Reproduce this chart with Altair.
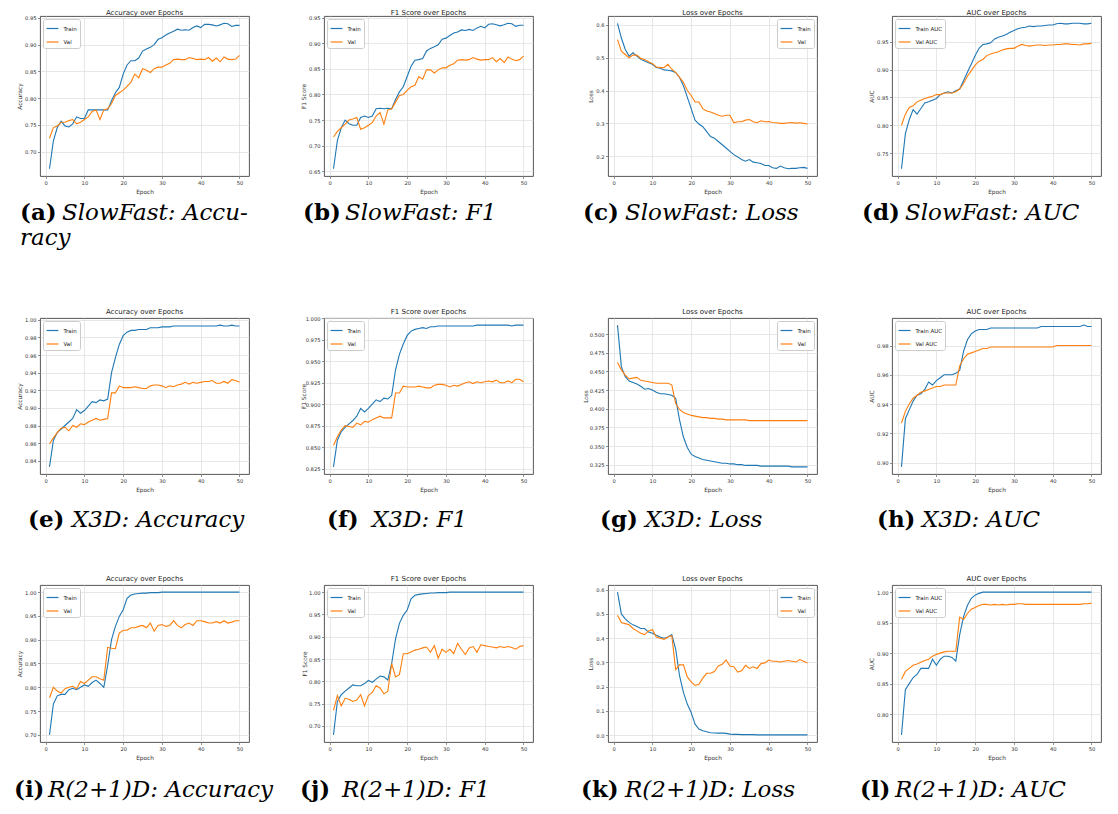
import altair as alt
import pandas as pd

EPOCHS = list(range(1, 51))

# ---------------- SlowFast ----------------
SF_ACC_TRAIN = [0.668, 0.720, 0.745, 0.757, 0.748, 0.746, 0.752, 0.765, 0.762, 0.762,
                0.778, 0.778, 0.778, 0.778, 0.778, 0.778, 0.795, 0.810, 0.820, 0.845,
                0.862, 0.870, 0.870, 0.875, 0.888, 0.892, 0.895, 0.900, 0.910, 0.913,
                0.918, 0.922, 0.925, 0.929, 0.927, 0.928, 0.927, 0.932, 0.935, 0.932,
                0.938, 0.938, 0.937, 0.935, 0.937, 0.940, 0.939, 0.934, 0.936, 0.936]
SF_ACC_VAL = [0.725, 0.745, 0.748, 0.755, 0.755, 0.758, 0.760, 0.752, 0.755, 0.760,
              0.765, 0.775, 0.778, 0.760, 0.778, 0.780, 0.790, 0.805, 0.810, 0.815,
              0.822, 0.830, 0.845, 0.838, 0.855, 0.852, 0.848, 0.855, 0.858, 0.858,
              0.862, 0.865, 0.872, 0.873, 0.872, 0.872, 0.876, 0.874, 0.872, 0.873,
              0.872, 0.876, 0.869, 0.875, 0.868, 0.877, 0.873, 0.872, 0.873, 0.880]
SF_F1_TRAIN = [0.655, 0.710, 0.735, 0.750, 0.743, 0.740, 0.740, 0.755, 0.758, 0.755,
               0.758, 0.772, 0.773, 0.772, 0.773, 0.772, 0.790, 0.805, 0.815, 0.835,
               0.855, 0.867, 0.868, 0.870, 0.885, 0.890, 0.893, 0.897, 0.908, 0.910,
               0.915, 0.920, 0.922, 0.926, 0.925, 0.927, 0.925, 0.930, 0.933, 0.930,
               0.937, 0.938, 0.936, 0.934, 0.936, 0.939, 0.938, 0.933, 0.935, 0.935]
SF_F1_VAL = [0.717, 0.728, 0.735, 0.742, 0.750, 0.752, 0.755, 0.732, 0.735, 0.740,
             0.745, 0.758, 0.765, 0.742, 0.770, 0.772, 0.785, 0.798, 0.800, 0.808,
             0.815, 0.818, 0.835, 0.830, 0.848, 0.848, 0.842, 0.848, 0.852, 0.852,
             0.857, 0.860, 0.867, 0.868, 0.867, 0.868, 0.872, 0.869, 0.867, 0.868,
             0.868, 0.872, 0.864, 0.870, 0.862, 0.873, 0.869, 0.866, 0.868, 0.875]
SF_LOSS_TRAIN = [0.605, 0.560, 0.525, 0.505, 0.515, 0.505, 0.495, 0.490, 0.485, 0.480,
                 0.470, 0.468, 0.463, 0.462, 0.460, 0.455, 0.440, 0.415, 0.380, 0.345,
                 0.310, 0.298, 0.290, 0.275, 0.260, 0.255, 0.245, 0.235, 0.225, 0.215,
                 0.205, 0.198, 0.190, 0.185, 0.190, 0.182, 0.180, 0.178, 0.172, 0.172,
                 0.165, 0.163, 0.170, 0.165, 0.162, 0.163, 0.163, 0.165, 0.166, 0.163]
SF_LOSS_VAL = [0.555, 0.520, 0.510, 0.500, 0.508, 0.508, 0.498, 0.495, 0.488, 0.482,
               0.472, 0.470, 0.470, 0.480, 0.465, 0.455, 0.440, 0.425, 0.400, 0.385,
               0.365, 0.365, 0.345, 0.338, 0.335, 0.330, 0.325, 0.322, 0.325, 0.325,
               0.302, 0.305, 0.305, 0.310, 0.312, 0.305, 0.302, 0.308, 0.305, 0.306,
               0.303, 0.302, 0.300, 0.300, 0.302, 0.303, 0.301, 0.302, 0.300, 0.298]
SF_AUC_TRAIN = [0.722, 0.785, 0.810, 0.828, 0.820, 0.830, 0.840, 0.842, 0.845, 0.848,
                0.855, 0.858, 0.860, 0.858, 0.862, 0.865, 0.880, 0.895, 0.910, 0.925,
                0.938, 0.945, 0.946, 0.948, 0.955, 0.958, 0.960, 0.963, 0.967, 0.970,
                0.973, 0.975, 0.976, 0.978, 0.977, 0.978, 0.978, 0.979, 0.980, 0.980,
                0.982, 0.983, 0.982, 0.982, 0.983, 0.983, 0.983, 0.982, 0.982, 0.983]
SF_AUC_VAL = [0.800, 0.820, 0.832, 0.835, 0.842, 0.845, 0.848, 0.850, 0.852, 0.855,
              0.855, 0.858, 0.858, 0.858, 0.860, 0.865, 0.875, 0.888, 0.898, 0.908,
              0.915, 0.918, 0.925, 0.928, 0.930, 0.932, 0.935, 0.937, 0.938, 0.938,
              0.942, 0.945, 0.943, 0.942, 0.943, 0.944, 0.944, 0.943, 0.944, 0.944,
              0.945, 0.945, 0.946, 0.946, 0.945, 0.945, 0.944, 0.946, 0.946, 0.947]

# ---------------- X3D ----------------
X3D_ACC_TRAIN = [0.833, 0.863, 0.872, 0.876, 0.880, 0.884, 0.888, 0.898, 0.894, 0.897,
                 0.902, 0.907, 0.906, 0.909, 0.908, 0.910, 0.940, 0.957, 0.972, 0.982,
                 0.986, 0.988, 0.988, 0.989, 0.989, 0.989, 0.991, 0.991, 0.991, 0.992,
                 0.992, 0.992, 0.993, 0.993, 0.993, 0.993, 0.993, 0.993, 0.993, 0.993,
                 0.993, 0.993, 0.993, 0.993, 0.994, 0.993, 0.993, 0.994, 0.993, 0.993]
X3D_ACC_VAL = [0.859, 0.866, 0.872, 0.877, 0.878, 0.874, 0.880, 0.878, 0.882, 0.881,
               0.884, 0.886, 0.888, 0.886, 0.887, 0.888, 0.917, 0.917, 0.925, 0.923,
               0.923, 0.923, 0.924, 0.923, 0.922, 0.922, 0.925, 0.926, 0.926, 0.925,
               0.923, 0.925, 0.924, 0.926, 0.927, 0.929, 0.927, 0.929, 0.928, 0.929,
               0.930, 0.930, 0.931, 0.928, 0.928, 0.930, 0.928, 0.932, 0.931, 0.929]
X3D_F1_TRAIN = [0.827, 0.858, 0.868, 0.873, 0.877, 0.881, 0.886, 0.895, 0.891, 0.895,
                0.900, 0.905, 0.903, 0.907, 0.906, 0.910, 0.940, 0.958, 0.970, 0.980,
                0.985, 0.987, 0.988, 0.989, 0.988, 0.990, 0.990, 0.991, 0.991, 0.991,
                0.991, 0.991, 0.991, 0.991, 0.991, 0.991, 0.991, 0.992, 0.992, 0.992,
                0.992, 0.992, 0.992, 0.992, 0.992, 0.992, 0.991, 0.992, 0.992, 0.992]
X3D_F1_VAL = [0.852, 0.862, 0.870, 0.875, 0.874, 0.873, 0.878, 0.876, 0.880, 0.879,
              0.882, 0.884, 0.886, 0.884, 0.884, 0.884, 0.913, 0.913, 0.921, 0.920,
              0.920, 0.920, 0.921, 0.920, 0.919, 0.919, 0.922, 0.923, 0.923, 0.922,
              0.920, 0.922, 0.921, 0.923, 0.925, 0.926, 0.924, 0.926, 0.925, 0.926,
              0.927, 0.926, 0.928, 0.925, 0.925, 0.927, 0.925, 0.929, 0.929, 0.926]
X3D_LOSS_TRAIN = [0.512, 0.456, 0.443, 0.437, 0.435, 0.433, 0.430, 0.426, 0.427, 0.425,
                  0.422, 0.420, 0.420, 0.419, 0.418, 0.414, 0.385, 0.362, 0.348, 0.339,
                  0.336, 0.334, 0.332, 0.331, 0.330, 0.329, 0.328, 0.327, 0.327, 0.326,
                  0.326, 0.325, 0.325, 0.324, 0.324, 0.324, 0.324, 0.323, 0.323, 0.323,
                  0.323, 0.323, 0.323, 0.323, 0.323, 0.322, 0.322, 0.322, 0.322, 0.322]
X3D_LOSS_VAL = [0.462, 0.452, 0.445, 0.440, 0.441, 0.442, 0.438, 0.437, 0.436, 0.435,
                0.434, 0.434, 0.434, 0.434, 0.432, 0.407, 0.399, 0.395, 0.393, 0.391,
                0.390, 0.389, 0.388, 0.388, 0.387, 0.387, 0.386, 0.386, 0.385, 0.385,
                0.385, 0.385, 0.385, 0.385, 0.384, 0.384, 0.384, 0.384, 0.384, 0.384,
                0.384, 0.384, 0.384, 0.384, 0.384, 0.384, 0.384, 0.384, 0.384, 0.384]
X3D_AUC_TRAIN = [0.897, 0.930, 0.936, 0.942, 0.946, 0.947, 0.950, 0.955, 0.953, 0.956,
                 0.958, 0.960, 0.960, 0.960, 0.961, 0.963, 0.976, 0.984, 0.988, 0.990,
                 0.991, 0.991, 0.991, 0.992, 0.992, 0.992, 0.992, 0.992, 0.992, 0.992,
                 0.992, 0.992, 0.992, 0.992, 0.992, 0.992, 0.993, 0.993, 0.993, 0.993,
                 0.993, 0.993, 0.993, 0.993, 0.993, 0.993, 0.993, 0.994, 0.993, 0.993]
X3D_AUC_VAL = [0.927, 0.935, 0.940, 0.944, 0.946, 0.948, 0.949, 0.950, 0.951, 0.952,
               0.952, 0.953, 0.953, 0.953, 0.953, 0.966, 0.971, 0.974, 0.975, 0.976,
               0.977, 0.978, 0.978, 0.979, 0.979, 0.979, 0.979, 0.979, 0.979, 0.979,
               0.979, 0.979, 0.979, 0.979, 0.979, 0.979, 0.979, 0.979, 0.979, 0.979,
               0.980, 0.980, 0.980, 0.980, 0.980, 0.980, 0.980, 0.980, 0.980, 0.980]

# ---------------- R(2+1)D ----------------
R21_ACC_TRAIN = [0.700, 0.765, 0.782, 0.785, 0.785, 0.795, 0.798, 0.795, 0.800, 0.805,
                 0.802, 0.810, 0.815, 0.808, 0.800, 0.846, 0.900, 0.928, 0.949, 0.963,
                 0.987, 0.994, 0.996, 0.997, 0.998, 0.998, 0.999, 0.999, 0.999, 1.000,
                 1.000, 1.000, 1.000, 1.000, 1.000, 1.000, 1.000, 1.000, 1.000, 1.000,
                 1.000, 1.000, 1.000, 1.000, 1.000, 1.000, 1.000, 1.000, 1.000, 1.000]
R21_ACC_VAL = [0.778, 0.800, 0.792, 0.788, 0.797, 0.800, 0.802, 0.797, 0.812, 0.808,
               0.815, 0.822, 0.822, 0.818, 0.815, 0.884, 0.882, 0.881, 0.914, 0.920,
               0.920, 0.925, 0.925, 0.928, 0.930, 0.925, 0.935, 0.918, 0.930, 0.932,
               0.928, 0.930, 0.940, 0.930, 0.925, 0.932, 0.935, 0.930, 0.940, 0.940,
               0.938, 0.935, 0.935, 0.938, 0.935, 0.940, 0.935, 0.937, 0.940, 0.940]
R21_F1_TRAIN = [0.680, 0.755, 0.770, 0.778, 0.785, 0.792, 0.790, 0.790, 0.795, 0.802,
                0.798, 0.805, 0.812, 0.810, 0.803, 0.840, 0.895, 0.930, 0.948, 0.960,
                0.985, 0.993, 0.995, 0.996, 0.997, 0.998, 0.998, 0.999, 0.999, 0.999,
                1.000, 1.000, 1.000, 1.000, 1.000, 1.000, 1.000, 1.000, 1.000, 1.000,
                1.000, 1.000, 1.000, 1.000, 1.000, 1.000, 1.000, 1.000, 1.000, 1.000]
R21_F1_VAL = [0.735, 0.768, 0.745, 0.762, 0.760, 0.755, 0.758, 0.770, 0.745, 0.768,
              0.775, 0.790, 0.785, 0.772, 0.778, 0.840, 0.810, 0.815, 0.862, 0.862,
              0.866, 0.870, 0.872, 0.875, 0.877, 0.865, 0.880, 0.852, 0.872, 0.865,
              0.872, 0.862, 0.885, 0.872, 0.860, 0.875, 0.878, 0.865, 0.882, 0.880,
              0.878, 0.877, 0.875, 0.878, 0.876, 0.878, 0.876, 0.872, 0.878, 0.880]
R21_LOSS_TRAIN = [0.590, 0.500, 0.480, 0.465, 0.455, 0.448, 0.440, 0.440, 0.425, 0.420,
                  0.412, 0.405, 0.400, 0.405, 0.415, 0.355, 0.245, 0.176, 0.128, 0.093,
                  0.045, 0.025, 0.018, 0.014, 0.010, 0.009, 0.008, 0.008, 0.007, 0.004,
                  0.003, 0.003, 0.002, 0.002, 0.002, 0.002, 0.001, 0.001, 0.001, 0.001,
                  0.001, 0.001, 0.001, 0.001, 0.001, 0.001, 0.001, 0.001, 0.001, 0.001]
R21_LOSS_VAL = [0.495, 0.465, 0.460, 0.455, 0.440, 0.430, 0.420, 0.415, 0.430, 0.435,
                0.405, 0.400, 0.395, 0.405, 0.410, 0.270, 0.290, 0.290, 0.240, 0.220,
                0.205, 0.210, 0.235, 0.255, 0.255, 0.262, 0.285, 0.292, 0.310, 0.285,
                0.282, 0.260, 0.265, 0.288, 0.275, 0.282, 0.275, 0.295, 0.298, 0.310,
                0.305, 0.305, 0.302, 0.305, 0.308, 0.305, 0.302, 0.312, 0.305, 0.298]
R21_AUC_TRAIN = [0.766, 0.840, 0.850, 0.860, 0.865, 0.875, 0.875, 0.875, 0.890, 0.880,
                 0.890, 0.895, 0.895, 0.893, 0.887, 0.930, 0.960, 0.978, 0.990, 0.995,
                 0.998, 1.000, 1.000, 1.000, 1.000, 1.000, 1.000, 1.000, 1.000, 1.000,
                 1.000, 1.000, 1.000, 1.000, 1.000, 1.000, 1.000, 1.000, 1.000, 1.000,
                 1.000, 1.000, 1.000, 1.000, 1.000, 1.000, 1.000, 1.000, 1.000, 1.000]
R21_AUC_VAL = [0.857, 0.870, 0.875, 0.880, 0.882, 0.885, 0.888, 0.890, 0.895, 0.898,
               0.900, 0.902, 0.903, 0.903, 0.903, 0.959, 0.955, 0.965, 0.972, 0.975,
               0.978, 0.980, 0.980, 0.979, 0.980, 0.979, 0.980, 0.979, 0.980, 0.980,
               0.981, 0.981, 0.980, 0.980, 0.980, 0.980, 0.980, 0.980, 0.980, 0.980,
               0.980, 0.980, 0.980, 0.980, 0.980, 0.980, 0.980, 0.981, 0.981, 0.982]

# ---------------- labels ----------------
PANEL_TITLES = ["Accuracy over Epochs", "F1 Score over Epochs", "Loss over Epochs", "AUC over Epochs"]
Y_TITLES = ["Accuracy", "F1 Score", "Loss", "AUC"]
SERIES_NAMES = [["Train", "Val"], ["Train", "Val"], ["Train", "Val"], ["Train AUC", "Val AUC"]]
X_TICKS = [0, 10, 20, 30, 40, 50]

Y_TICKS = [
    [[0.70, 0.75, 0.80, 0.85, 0.90, 0.95], [0.65, 0.70, 0.75, 0.80, 0.85, 0.90, 0.95],
     [0.2, 0.3, 0.4, 0.5, 0.6], [0.75, 0.80, 0.85, 0.90, 0.95]],
    [[0.84, 0.86, 0.88, 0.90, 0.92, 0.94, 0.96, 0.98, 1.00],
     [0.825, 0.850, 0.875, 0.900, 0.925, 0.950, 0.975, 1.000],
     [0.325, 0.350, 0.375, 0.400, 0.425, 0.450, 0.475, 0.500],
     [0.90, 0.92, 0.94, 0.96, 0.98]],
    [[0.70, 0.75, 0.80, 0.85, 0.90, 0.95, 1.00], [0.70, 0.75, 0.80, 0.85, 0.90, 0.95, 1.00],
     [0.0, 0.1, 0.2, 0.3, 0.4, 0.5, 0.6], [0.80, 0.85, 0.90, 0.95, 1.00]],
]
Y_FORMATS = [[".2f", ".2f", ".1f", ".2f"], [".2f", ".3f", ".3f", ".2f"], [".2f", ".2f", ".1f", ".2f"]]

SERIES = [
    [(SF_ACC_TRAIN, SF_ACC_VAL), (SF_F1_TRAIN, SF_F1_VAL), (SF_LOSS_TRAIN, SF_LOSS_VAL), (SF_AUC_TRAIN, SF_AUC_VAL)],
    [(X3D_ACC_TRAIN, X3D_ACC_VAL), (X3D_F1_TRAIN, X3D_F1_VAL), (X3D_LOSS_TRAIN, X3D_LOSS_VAL), (X3D_AUC_TRAIN, X3D_AUC_VAL)],
    [(R21_ACC_TRAIN, R21_ACC_VAL), (R21_F1_TRAIN, R21_F1_VAL), (R21_LOSS_TRAIN, R21_LOSS_VAL), (R21_AUC_TRAIN, R21_AUC_VAL)],
]

CAPTION_TAGS = [["(a)", "(b)", "(c)", "(d)"], ["(e)", "(f)", "(g)", "(h)"], ["(i)", "(j)", "(k)", "(l)"]]
CAPTION_TEXTS = [
    ["SlowFast: Accu-", "SlowFast: F1", "SlowFast: Loss", "SlowFast: AUC"],
    ["X3D: Accuracy", "X3D: F1", "X3D: Loss", "X3D: AUC"],
    ["R(2+1)D: Accuracy", "R(2+1)D: F1", "R(2+1)D: Loss", "R(2+1)D: AUC"],
]
CAPTION_WRAP = "racy"

# ---------------- layout (pixels) ----------------
BLUE = "#1f77b4"
ORANGE = "#ff7f0e"
FONT = "DejaVu Sans"
SERIF = "DejaVu Serif"
PLOT_W = 209
PITCH = 284
PLOT_LEFT = [40, 324, 608, 892]
ROW_H = [160, 156, 157]
SPACERS = [51, 36.5]
CAP_DY = [197, 202, 205]          # caption centre below plot top
WRAP_DY = 25
TAG_X = [[20, 303, 583, 862], [28, 327, 600, 877], [14, 300, 581, 860]]
TEXT_X = [[62, 345, 625, 905], [72, 372, 645, 922], [48, 342, 625, 895]]
CAP_SIZE = 23
TITLE_DY = [-3.5, -6.5, -6]
Y_TITLE_X = [[-18, -18, -15, -18], [-18, -18, -20, -18], [-18, -17, -15, -18]]


def panel(r, c):
    train, val = SERIES[r][c]
    names = SERIES_NAMES[c]
    df = pd.DataFrame({
        "Epoch": EPOCHS + EPOCHS,
        "value": train + val,
        "series": [names[0]] * len(EPOCHS) + [names[1]] * len(EPOCHS),
    })
    lo, hi = min(train + val), max(train + val)
    pad = 0.05 * (hi - lo)
    lines = alt.Chart(df).mark_line(strokeWidth=1.1).encode(
        x=alt.X("Epoch:Q",
                scale=alt.Scale(domain=[-1.45, 52.45], nice=False, zero=False),
                axis=alt.Axis(values=X_TICKS, format="d", title="Epoch")),
        y=alt.Y("value:Q",
                scale=alt.Scale(domain=[lo - pad, hi + pad], nice=False, zero=False),
                axis=alt.Axis(values=Y_TICKS[r][c], format=Y_FORMATS[r][c],
                              title=Y_TITLES[c], titleX=Y_TITLE_X[r][c])),
        color=alt.Color("series:N",
                        scale=alt.Scale(domain=names, range=[BLUE, ORANGE]),
                        legend=alt.Legend(title=None,
                                          orient="top-right" if c == 2 else "top-left")),
    )

    title = alt.Chart(pd.DataFrame({"t": [PANEL_TITLES[c]]})).mark_text(
        font=FONT, fontSize=7, color="#222222", align="center", baseline="middle"
    ).encode(x=alt.value(PLOT_W / 2), y=alt.value(TITLE_DY[r]), text="t:N")

    cap_df = pd.DataFrame({"tag": [CAPTION_TAGS[r][c]], "body": [CAPTION_TEXTS[r][c]]})
    cap_y = CAP_DY[r]
    tag = alt.Chart(cap_df).mark_text(
        font=SERIF, fontSize=CAP_SIZE, fontWeight="bold", color="black",
        align="left", baseline="middle"
    ).encode(x=alt.value(TAG_X[r][c] - PLOT_LEFT[c]), y=alt.value(cap_y), text="tag:N")
    body = alt.Chart(cap_df).mark_text(
        font=SERIF, fontSize=CAP_SIZE, fontStyle="italic", color="black",
        align="left", baseline="middle"
    ).encode(x=alt.value(TEXT_X[r][c] - PLOT_LEFT[c]), y=alt.value(cap_y), text="body:N")
    layers = [lines, title, tag, body]

    if r == 0 and c == 0:
        wrap = alt.Chart(pd.DataFrame({"w": [CAPTION_WRAP]})).mark_text(
            font=SERIF, fontSize=CAP_SIZE, fontStyle="italic", color="black",
            align="left", baseline="middle"
        ).encode(x=alt.value(TAG_X[0][0] - PLOT_LEFT[0]), y=alt.value(cap_y + WRAP_DY), text="w:N")
        layers.append(wrap)

    return alt.layer(*layers).properties(width=PLOT_W, height=ROW_H[r])


def spacer(h):
    return alt.Chart(pd.DataFrame({"v": [0]})).mark_point(opacity=0).encode(
        x=alt.value(0), y=alt.value(0)
    ).properties(width=1, height=h, view=alt.ViewBackground(stroke="transparent"))


def row(r):
    return alt.hconcat(*[panel(r, c) for c in range(4)],
                       spacing=PITCH - PLOT_W, bounds="flush").resolve_scale(color="independent")


chart = alt.vconcat(
    row(0), spacer(SPACERS[0]), row(1), spacer(SPACERS[1]), row(2), spacing=0
).resolve_scale(color="independent").properties(
    padding={"left": 13, "top": 8, "right": 0, "bottom": 0},
    background="white",
).configure_axis(
    labelFont=FONT, titleFont=FONT, labelFontSize=5.2, titleFontSize=5.8,
    labelColor="#333333", titleColor="#333333", titleFontWeight="normal",
    tickSize=2.5, tickColor="#444444", tickWidth=0.6, domain=False,
    grid=True, gridColor="#dcdcdc", gridWidth=0.7, labelPadding=1.5, labelFlush=False,
).configure_axisX(titlePadding=3).configure_view(
    stroke="#444444", strokeWidth=0.9,
).configure_legend(
    labelFont=FONT, labelFontSize=5.5, labelColor="#222222", padding=2.5, offset=3,
    strokeColor="#cccccc", fillColor="white", cornerRadius=2,
    symbolType="M-1,0H1", symbolSize=140, symbolStrokeWidth=1.2,
    rowPadding=2.5, labelOffset=4,
)

chart.save("out.html", embed_options={"renderer": "svg", "actions": False})
